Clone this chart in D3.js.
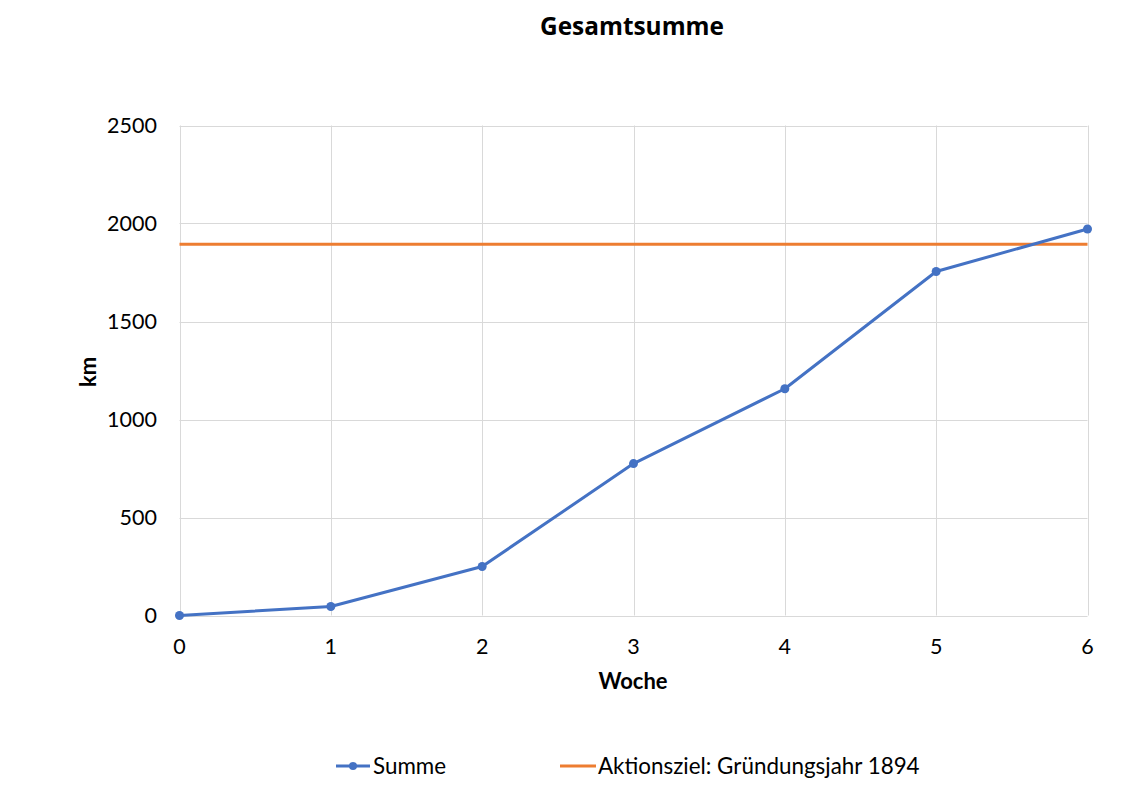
<!DOCTYPE html>
<html><head><meta charset="utf-8">
<script src="https://cdn.jsdelivr.net/npm/d3@7"></script>
<style>body{margin:0;background:#fff}svg{display:block}text{font-family:Lato,"Open Sans",sans-serif}</style>
</head><body><svg id="c" width="1148" height="809"></svg>
<script>
const weeks = [0, 1, 2, 3, 4, 5, 6];
const summe = [0, 46, 250, 775, 1157, 1755, 1972];
const ziel = 1894;
const yTicks = [0, 500, 1000, 1500, 2000, 2500];
const title = "Gesamtsumme";
const xTitle = "Woche";
const yTitle = "km";
const seriesNames = ["Summe", "Aktionsziel: Gründungsjahr 1894"];

const svg = d3.select("#c");
const x = d3.scaleLinear().domain([0, 6]).range([179.5, 1087.5]);
const y = d3.scaleLinear().domain([0, 2500]).range([615.5, 125.5]);
const grid = "#d9d9d9", blue = "#4472c4", orange = "#ed7d31";

svg.append("g").selectAll("line").data(yTicks).join("line")
  .attr("x1", x(0)).attr("x2", x(6)).attr("y1", d => Math.round(y(d)) + 0.5).attr("y2", d => Math.round(y(d)) + 0.5)
  .attr("stroke", grid).attr("stroke-width", 1);
svg.append("g").selectAll("line").data(weeks).join("line")
  .attr("y1", y(0)).attr("y2", y(2500)).attr("x1", d => Math.round(x(d)) + 0.5).attr("x2", d => Math.round(x(d)) + 0.5)
  .attr("stroke", grid).attr("stroke-width", 1);

svg.append("g").selectAll("text").data(yTicks).join("text")
  .attr("x", 157).attr("y", d => y(d)).attr("dy", "0.35em").attr("text-anchor", "end")
  .attr("font-size", 21.5).attr("fill", "#000").text(d => d);
svg.append("g").selectAll("text").data(weeks).join("text")
  .attr("x", d => x(d)).attr("y", 654).attr("text-anchor", "middle")
  .attr("font-size", 21.5).attr("fill", "#000").text(d => d);

svg.append("line").attr("x1", x(0)).attr("x2", x(6)).attr("y1", y(ziel)).attr("y2", y(ziel))
  .attr("stroke", orange).attr("stroke-width", 3);

const pts = weeks.map((w, i) => [w, summe[i]]);
svg.append("path").datum(pts).attr("fill", "none").attr("stroke", blue).attr("stroke-width", 3)
  .attr("stroke-linejoin", "round").attr("d", d3.line().x(d => x(d[0])).y(d => y(d[1])));
svg.append("g").selectAll("circle").data(pts).join("circle")
  .attr("cx", d => x(d[0])).attr("cy", d => y(d[1])).attr("r", 4.5).attr("fill", blue);

svg.append("text").attr("x", 632).attr("y", 35).attr("text-anchor", "middle")
  .style("font-family", "'Open Sans',sans-serif")
  .attr("font-size", 24.4).attr("font-weight", "bold").text(title);
svg.append("text").attr("x", 633).attr("y", 689).attr("text-anchor", "middle")
  .attr("font-size", 22).attr("font-weight", "bold").text(xTitle);
svg.append("text").attr("transform", "translate(96,372) rotate(-90)").attr("text-anchor", "middle")
  .attr("font-size", 22).attr("font-weight", "bold").text(yTitle);

// legend
const lg = svg.append("g");
lg.append("line").attr("x1", 336).attr("x2", 370).attr("y1", 766).attr("y2", 766).attr("stroke", blue).attr("stroke-width", 3);
lg.append("circle").attr("cx", 353).attr("cy", 766).attr("r", 4).attr("fill", blue);
lg.append("text").attr("x", 373).attr("y", 774).attr("font-size", 22.4).text(seriesNames[0]);
lg.append("line").attr("x1", 560).attr("x2", 596).attr("y1", 766).attr("y2", 766).attr("stroke", orange).attr("stroke-width", 3);
lg.append("text").attr("x", 598).attr("y", 774).attr("font-size", 22.4).text(seriesNames[1]);
</script></body></html>
